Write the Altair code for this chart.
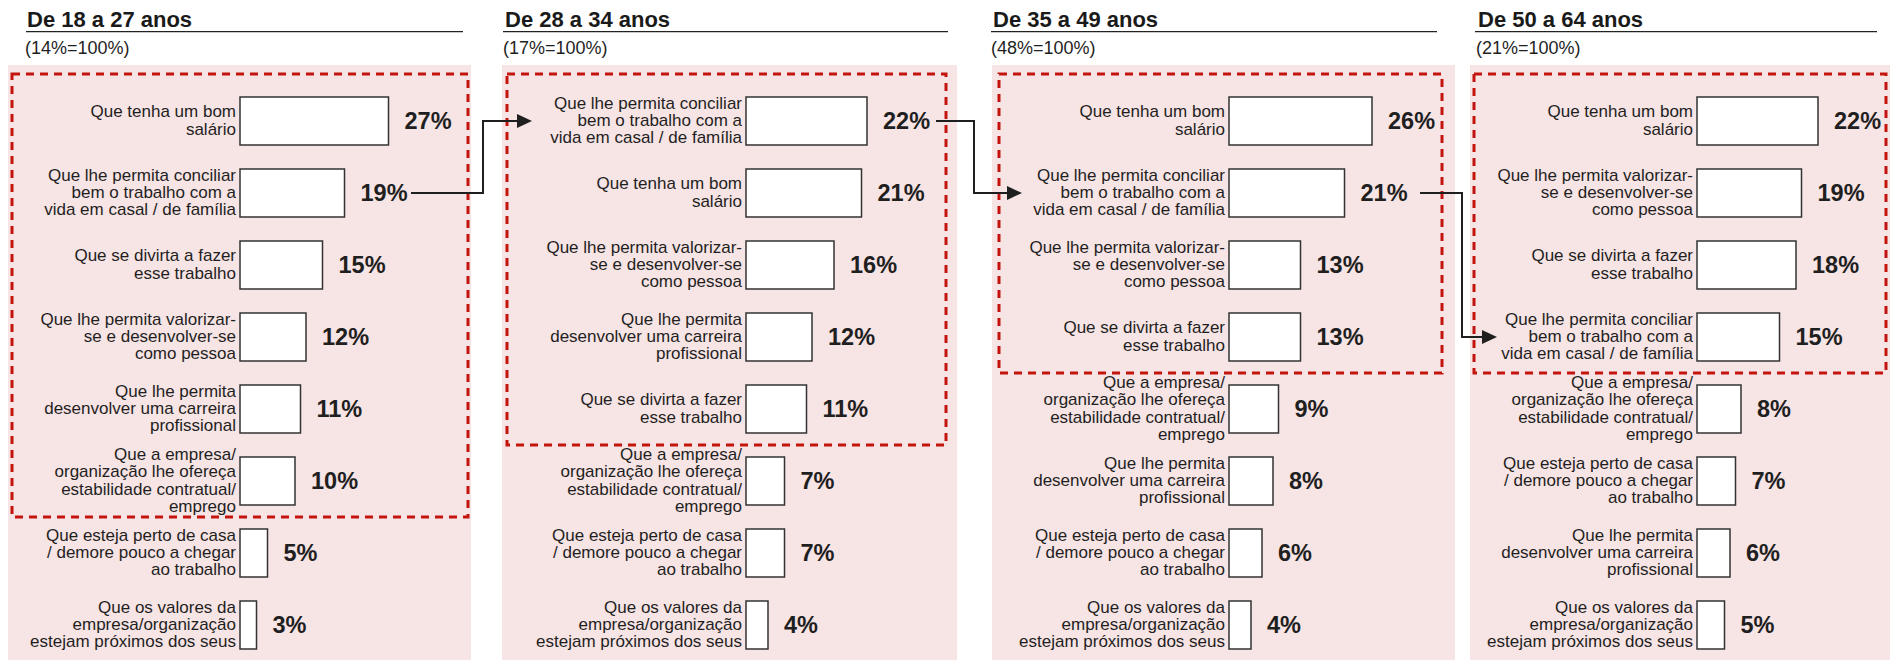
import altair as alt
import pandas as pd

FONT = "Liberation Sans"
INK = "#1f1f1f"
PINK = "#f7e4e4"
RED = "#c3140d"
BAR_STROKE = "#333333"

age_groups = ["De 18 a 27 anos", "De 28 a 34 anos", "De 35 a 49 anos", "De 50 a 64 anos"]
bases = ["(14%=100%)", "(17%=100%)", "(48%=100%)", "(21%=100%)"]

SAL = "Que tenha um bom\nsalário"
CON = "Que lhe permita conciliar\nbem o trabalho com a\nvida em casal / de família"
DIV = "Que se divirta a fazer\nesse trabalho"
VAL = "Que lhe permita valorizar-\nse e desenvolver-se\ncomo pessoa"
CAR = "Que lhe permita\ndesenvolver uma carreira\nprofissional"
EMP = "Que a empresa/\norganização lhe ofereça\nestabilidade contratual/\nemprego"
CAS = "Que esteja perto de casa\n/ demore pouco a chegar\nao trabalho"
VLR = "Que os valores da\nempresa/organização\nestejam próximos dos seus"

cats_18_27 = [SAL, CON, DIV, VAL, CAR, EMP, CAS, VLR]
vals_18_27 = [27, 19, 15, 12, 11, 10, 5, 3]
cats_28_34 = [CON, SAL, VAL, CAR, DIV, EMP, CAS, VLR]
vals_28_34 = [22, 21, 16, 12, 11, 7, 7, 4]
cats_35_49 = [SAL, CON, VAL, DIV, EMP, CAR, CAS, VLR]
vals_35_49 = [26, 21, 13, 13, 9, 8, 6, 4]
cats_50_64 = [SAL, VAL, DIV, CON, EMP, CAS, CAR, VLR]
vals_50_64 = [22, 19, 18, 15, 8, 7, 6, 5]
highlighted = [6, 5, 4, 4]

panel_cats = [cats_18_27, cats_28_34, cats_35_49, cats_50_64]
panel_vals = [vals_18_27, vals_28_34, vals_35_49, vals_50_64]

# ---- layout (panel-local pixels) ----
H = 652
PANEL_W = [494, 490, 478, 420]
PINK_W = [463, 455, 463, 420]
PINK_TOP = 57
TITLE_X = [19, 3, 1, 8]
RULE_X = [(18, 455), (1, 446), (-1, 445), (5, 407)]
SUB_X = [17, 1, -1, 6]
BOX_X = [(4, 460), (5, 444), (7, 450), (4, 416)]
BAR_X0 = [232, 244, 237, 227]
PX_PER_PCT = 5.5
EXIT = [(404, 475), (435, 472), (429, 470), None]
ENTRY = [None, (-19, 30), (-18, 30), (-8, 27)]
Y_RANGE = [77, 653]
ROW_STEP = 72
BOX_TOP = 0.347
ARROW_LEN = 15
LABEL_SIZE = 17
LINE_H = 17.2


def one(**kw):
    return alt.Chart(pd.DataFrame({k: [v] for k, v in kw.items()}))


def panel(i):
    cats = panel_cats[i]
    vals = panel_vals[i]
    df = pd.DataFrame({"rank": list(range(1, len(cats) + 1)), "label": cats, "value": vals})
    ys = alt.Scale(domain=[0.5, 8.5], range=Y_RANGE, nice=False, zero=False)
    x0 = BAR_X0[i]
    xs = alt.Scale(domain=[0, 30], range=[x0, x0 + 30 * PX_PER_PCT], nice=False, zero=False)

    layers = []
    layers.append(one(p=0).mark_rect(color=PINK).encode(
        x=alt.value(0), x2=alt.value(PINK_W[i]), y=alt.value(PINK_TOP), y2=alt.value(H)))
    layers.append(one(t=age_groups[i]).mark_text(
        align="left", baseline="alphabetic", font=FONT, fontSize=22, fontWeight="bold", color="#1a1a1a"
    ).encode(x=alt.value(TITLE_X[i]), y=alt.value(18.5), text="t:N"))
    layers.append(one(p=0).mark_rule(color="#222222", strokeWidth=1.2).encode(
        x=alt.value(RULE_X[i][0]), x2=alt.value(RULE_X[i][1]), y=alt.value(23.7)))
    layers.append(one(t=bases[i]).mark_text(
        align="left", baseline="alphabetic", font=FONT, fontSize=18, color=INK
    ).encode(x=alt.value(SUB_X[i]), y=alt.value(45.5), text="t:N"))

    # dashed highlight box
    layers.append(one(a=BOX_TOP, b=highlighted[i] + 0.5).mark_rect(
        fillOpacity=0, stroke=RED, strokeWidth=3, strokeDash=[8, 6]
    ).encode(x=alt.value(BOX_X[i][0]), x2=alt.value(BOX_X[i][1]),
             y=alt.Y("a:Q", scale=ys, axis=None), y2="b:Q"))

    base = alt.Chart(df)
    layers.append(base.transform_calculate(
        zero="0", y0="datum.rank - 1/3", y1="datum.rank + 1/3"
    ).mark_rect(fill="white", stroke=BAR_STROKE, strokeWidth=1.5).encode(
        x=alt.X("zero:Q", scale=xs, axis=None), x2="value:Q",
        y=alt.Y("y0:Q", scale=ys, axis=None), y2="y1:Q"))
    layers.append(base.transform_calculate(
        nl="length(split(datum.label, '\\n'))"
    ).transform_calculate(
        ylab=f"datum.rank - (datum.nl - 1) * {LINE_H} / 2 / {ROW_STEP}"
    ).mark_text(
        align="right", baseline="middle", font=FONT, fontSize=LABEL_SIZE, lineHeight=LINE_H,
        lineBreak="\n", color=INK
    ).encode(x=alt.value(x0 - 4), y=alt.Y("ylab:Q", scale=ys, axis=None), text="label:N"))
    layers.append(base.transform_calculate(pct="datum.value + '%'").mark_text(
        align="left", baseline="middle", font=FONT, fontSize=23.5, fontWeight="bold", dx=16, dy=1,
        color=INK
    ).encode(x=alt.X("value:Q", scale=xs, axis=None), y=alt.Y("rank:Q", scale=ys, axis=None),
             text="pct:N"))

    # arrows following "conciliar" to the next age group
    if EXIT[i] is not None:
        r_from = cats.index(CON) + 1
        r_to = panel_cats[i + 1].index(CON) + 1
        sx, vx = EXIT[i]
        layers.append(one(r=r_from).mark_rule(color=INK, strokeWidth=2, strokeCap="square").encode(
            x=alt.value(sx), x2=alt.value(vx), y=alt.Y("r:Q", scale=ys, axis=None)))
        layers.append(one(a=r_from, b=r_to).mark_rule(color=INK, strokeWidth=2, strokeCap="square").encode(
            x=alt.value(vx), y=alt.Y("a:Q", scale=ys, axis=None), y2="b:Q"))
    if ENTRY[i] is not None:
        r_to = cats.index(CON) + 1
        fx, tip = ENTRY[i]
        layers.append(one(r=r_to).mark_rule(color=INK, strokeWidth=2, strokeCap="square").encode(
            x=alt.value(fx), x2=alt.value(tip - ARROW_LEN + 2), y=alt.Y("r:Q", scale=ys, axis=None)))
        layers.append(one(r=r_to).mark_point(
            shape="M-1,-0.93L1,0L-1,0.93Z", size=225, filled=True, fill=INK, strokeWidth=0, opacity=1
        ).encode(x=alt.value(tip - ARROW_LEN / 2), y=alt.Y("r:Q", scale=ys, axis=None)))

    return alt.layer(*layers).properties(width=PANEL_W[i], height=H)


chart = alt.hconcat(*[panel(i) for i in range(4)], spacing=0, bounds="flush").properties(
    padding=0
).configure_view(stroke=None)

chart.save("out.html", embed_options={"renderer": "svg", "actions": False})
